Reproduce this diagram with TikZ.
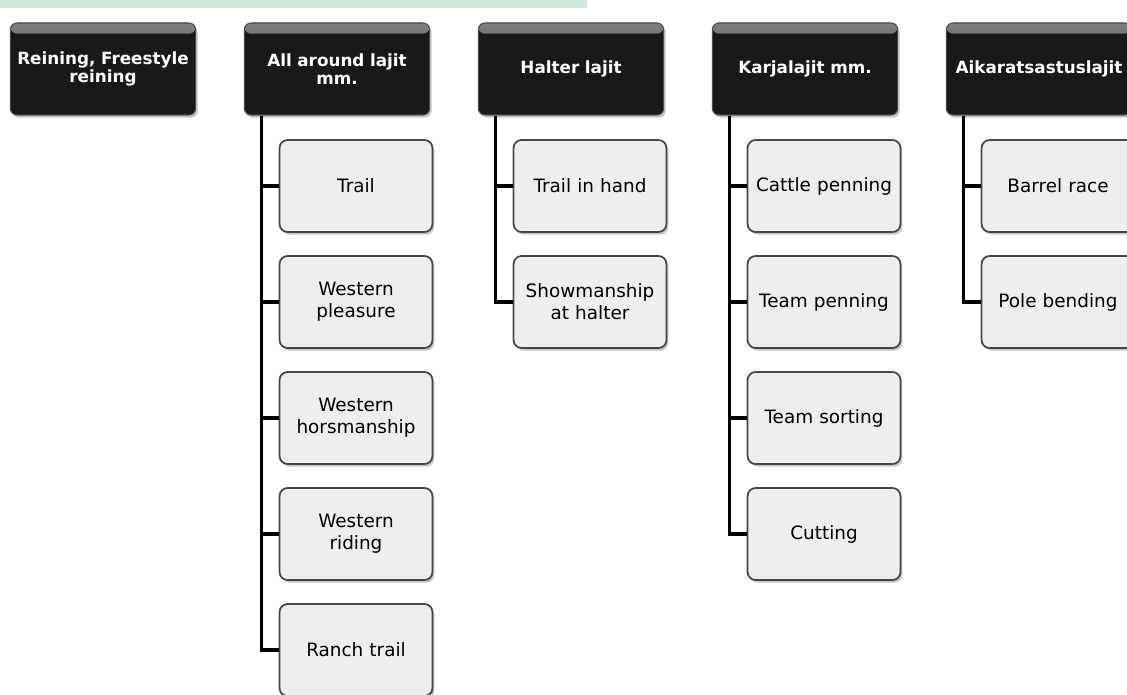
\documentclass[tikz,border=0pt]{standalone}
\usepackage{fontspec}
\setmainfont{DejaVu Sans}
\usetikzlibrary{calc}
\usetikzlibrary{shadows}

\definecolor{barGreen}{RGB}{206,232,218}
\definecolor{boxGray}{RGB}{238,238,238}
\definecolor{rimGray}{RGB}{70,70,70}

\tikzset{
  header/.style={draw=black!70, line width=0.8pt, fill=black!90, rounded corners=5pt,
    minimum width=139pt, minimum height=69pt, text width=132pt, align=center,
    text=white, font=\fontsize{12.6}{13.6}\selectfont\bfseries,
    path picture={\shade [top color=black!50, bottom color=black!88]
      (path picture bounding box.north west) rectangle
      ([yshift=-8pt]path picture bounding box.north east);},
    drop shadow={shadow xshift=1.5pt, shadow yshift=-2pt, opacity=0.45}},
  leaf/.style={draw=rimGray, line width=1.3pt, fill=boxGray, rounded corners=6pt,
    minimum width=114pt, minimum height=69pt, text width=108pt, align=center,
    font=\fontsize{13.8}{16.5}\selectfont,
    drop shadow={shadow xshift=1.5pt, shadow yshift=-2pt, opacity=0.45}},
  branch/.style={line width=2.4pt, black}
}

\begin{document}
\begin{tikzpicture}[x=0.75pt,y=0.75pt,yscale=-1,xscale=1]
\useasboundingbox (0,0) rectangle (1127,695);

%Shape: Rectangle [id:bar]
\fill [barGreen] (0,0) rectangle (587,8);

% Header Nodes
\node [header] (reining) at (103,69) {Reining, Freestyle\\reining};
\node [header] (allaround) at (337,69) {All around lajit\\mm.};
\node [header] (halter) at (571,69) {Halter lajit};
\node [header] (karja) at (805,69) {Karjalajit mm.};
\node [header] (aika) at (1039,69) {Aikaratsastuslajit};

% Leaf Nodes: All around
\node [leaf] (trail) at (356,186) {Trail};
\node [leaf] (wpleasure) at (356,302) {Western\\pleasure};
\node [leaf] (whorse) at (356,418) {Western\\horsmanship};
\node [leaf] (wriding) at (356,534) {Western\\riding};
\node [leaf] (ranch) at (356,650) {Ranch trail};

% Leaf Nodes: Halter
\node [leaf] (inhand) at (590,186) {Trail in hand};
\node [leaf] (showman) at (590,302) {Showmanship\\at halter};

% Leaf Nodes: Karja
\node [leaf] (cattle) at (824,186) {Cattle penning};
\node [leaf] (teampen) at (824,302) {Team penning};
\node [leaf] (teamsort) at (824,418) {Team sorting};
\node [leaf] (cutting) at (824,534) {Cutting};

% Leaf Nodes: Aika
\node [leaf] (barrel) at (1058,186) {Barrel race};
\node [leaf] (pole) at (1058,302) {Pole bending};

% Trunk points under the headers
\coordinate (aa top) at ($(allaround.south west)+(18,0)$);
\coordinate (ha top) at ($(halter.south west)+(18,0)$);
\coordinate (ka top) at ($(karja.south west)+(18,0)$);
\coordinate (ai top) at ($(aika.south west)+(18,0)$);

%Straight Lines
\draw [branch] (aa top) |- (trail.west);
\draw [branch] (aa top) |- (wpleasure.west);
\draw [branch] (aa top) |- (whorse.west);
\draw [branch] (aa top) |- (wriding.west);
\draw [branch] (aa top) |- (ranch.west);
%Straight Lines
\draw [branch] (ha top) |- (inhand.west);
\draw [branch] (ha top) |- (showman.west);
%Straight Lines
\draw [branch] (ka top) |- (cattle.west);
\draw [branch] (ka top) |- (teampen.west);
\draw [branch] (ka top) |- (teamsort.west);
\draw [branch] (ka top) |- (cutting.west);
%Straight Lines
\draw [branch] (ai top) |- (barrel.west);
\draw [branch] (ai top) |- (pole.west);

\end{tikzpicture}
\end{document}
